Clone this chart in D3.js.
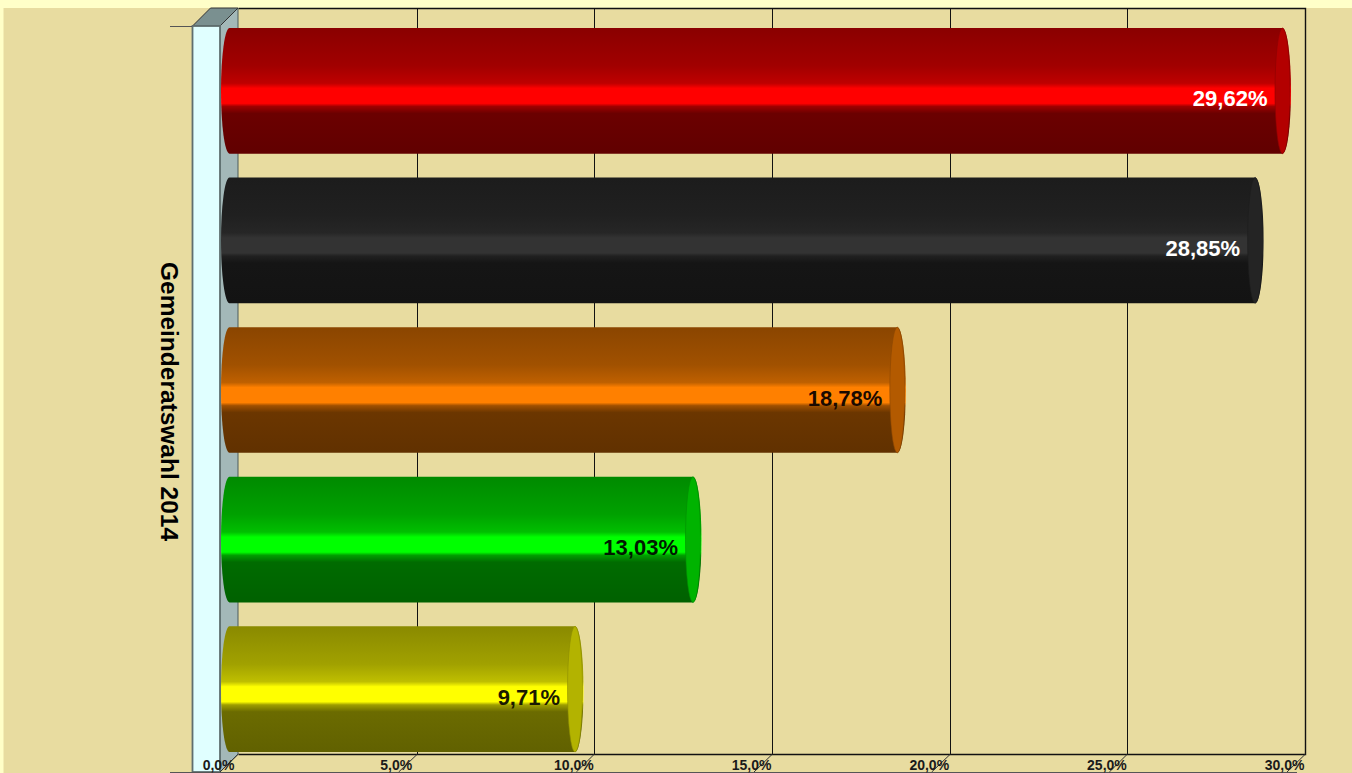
<!DOCTYPE html>
<html><head><meta charset="utf-8">
<script src="https://cdnjs.cloudflare.com/ajax/libs/d3/7.8.5/d3.min.js"></script>
<style>html,body{margin:0;padding:0;background:#e8dca0;overflow:hidden}svg{display:block}text{font-family:"Liberation Sans",Arial,sans-serif}</style>
</head><body><svg id="c" width="1352" height="773"></svg>
<script>
const categories = ["A","B","C","D","E"];
const values = [29.62,28.85,18.78,13.03,9.71];
const labels = ["29,62%","28,85%","18,78%","13,03%","9,71%"];
const barColors = ["#ff0000","#333333","#ff8000","#00ff00","#ffff00"];
const labelColors = ["#ffffff","#ffffff","#1a0a00","#001a00","#1a1a00"];
const tickValues = [0,5,10,15,20,25,30];
const tickLabels = ["0,0%","5,0%","10,0%","15,0%","20,0%","25,0%","30,0%"];
const axisTitle = "Gemeinderatswahl 2014";
const shadeOffsets = [0,0.3,0.44,0.48,0.6,0.625,0.68,1];
const shadeFactors = [0.54,0.63,0.75,1,1,0.62,0.42,0.38];
(function(){
const svg = d3.select("#c");
const defs = svg.append("defs");
const W=1352,H=773;
const depthX=18, depthY=18;
const wallX=220;                // front right edge of the wall
const x0=221, x1=1287;          // front plane of the scale
const yTop=26, yBottom=772;     // front plane of the wall
const x = d3.scaleLinear().domain([0,30]).range([x0,x1]);
const y = d3.scaleBand().domain(categories).range([yTop+2,yBottom-20]).paddingInner(0.16).paddingOuter(0);

svg.append("rect").attr("width",W).attr("height",H).attr("fill","#e8dca0");
svg.append("rect").attr("width",W).attr("height",8).attr("fill","#ffffc8");
svg.append("rect").attr("width",3.5).attr("height",H).attr("fill","#ffffc8");

// back wall outline and gridlines
const bx = v => Math.round(x(v)+depthX)+.5;
const backLeft = wallX+depthX+.5;
svg.append("path").attr("d",`M${backLeft},8.5H${bx(30)}V${yBottom-depthY+.5}H${backLeft}`)
  .attr("fill","none").attr("stroke","#111").attr("stroke-width",1.4);
svg.selectAll(".grid").data(tickValues.slice(1)).join("line").attr("class","grid")
  .attr("x1",d=>bx(d)).attr("x2",d=>bx(d)).attr("y1",8.5).attr("y2",yBottom-depthY)
  .attr("stroke","#111").attr("stroke-width",1);

// left wall: side, top, front
svg.append("path").attr("d",`M${wallX},${yTop}L${wallX+depthX},8V${yBottom-depthY}L${wallX},${yBottom}Z`).attr("fill","#a3b8b8").attr("stroke","#4a5a5a");
svg.append("path").attr("d",`M192.5,${yTop}L${192.5+depthX},8H${wallX+depthX}L${wallX},${yTop}Z`).attr("fill","#7a9090").attr("stroke","#333");
svg.append("rect").attr("x",192.5).attr("y",yTop).attr("width",wallX-192.5).attr("height",yBottom-yTop).attr("fill","#e0ffff").attr("stroke","#5f6f6f").attr("stroke-width",1.8);

// baseline and tick lines
svg.append("line").attr("x1",170).attr("x2",192).attr("y1",26.5).attr("y2",26.5).attr("stroke","#555");
svg.append("line").attr("x1",170).attr("x2",x1+10).attr("y1",yBottom+.5).attr("y2",yBottom+.5).attr("stroke","#555");
svg.selectAll(".tick").data(tickValues).join("line").attr("class","tick")
  .attr("x1",d=>d===0?backLeft:bx(d)).attr("y1",yBottom-depthY).attr("x2",d=>x(d)-(d===0?1:0)).attr("y2",yBottom).attr("stroke","#333");
svg.selectAll(".tl").data(tickValues).join("text").attr("class","tl")
  .attr("x",d=>x(d)-2.4).attr("y",770).attr("text-anchor","middle")
  .attr("font-size",14).attr("font-weight","bold").attr("fill","#1a1a1a")
  .text((d,i)=>tickLabels[i]);

// axis title
svg.append("text").attr("transform","translate(161,401.5) rotate(90)").attr("text-anchor","middle")
  .attr("font-size",23).attr("font-weight","bold").attr("fill","#000")
  .attr("textLength",279).attr("lengthAdjust","spacingAndGlyphs").text(axisTitle);

// bars
const rx=8.5, mid=depthX/2;
const xb = v => x(v)+mid;
categories.forEach((c,i)=>{
  const base=d3.rgb(barColors[i]);
  const g=defs.append("linearGradient").attr("id","g"+i).attr("x1",0).attr("x2",0).attr("y1",0).attr("y2",1);
  shadeOffsets.forEach((o,k)=>{
    const f=shadeFactors[k];
    g.append("stop").attr("offset",o).attr("stop-color",d3.rgb(base.r*f,base.g*f,base.b*f).formatHex());
  });
  const t=y(c), h=y.bandwidth(), b=t+h, ry=h/2, xs=xb(0)-.5, xe=xb(values[i]);
  svg.append("path")
    .attr("d",`M${xs},${t}H${xe}A${rx},${ry} 0 0 1 ${xe},${b}H${xs}A${rx},${ry} 0 0 1 ${xs},${t}Z`)
    .attr("fill",`url(#g${i})`);
  const f=0.7, e=0.55;
  svg.append("ellipse").attr("cx",xe).attr("cy",t+ry).attr("rx",rx-1).attr("ry",ry)
    .attr("fill",d3.rgb(base.r*f,base.g*f,base.b*f).formatHex())
    .attr("stroke",d3.rgb(base.r*e,base.g*e,base.b*e).formatHex()).attr("stroke-width",0.6);
  svg.append("text").attr("x",xe-15).attr("y",t+ry+15.5).attr("text-anchor","end")
    .attr("font-size",22).attr("font-weight","bold").attr("fill",labelColors[i]).text(labels[i]);
});
})();
</script></body></html>
